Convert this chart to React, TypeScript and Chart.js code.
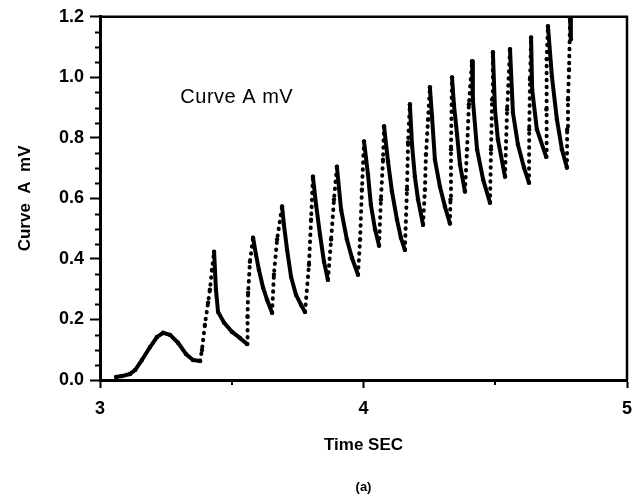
import React, { useEffect, useRef } from "react";
import { Chart, registerables } from "chart.js";

Chart.register(...registerables);

// ---- data ----
const timeSec = [
  3.061, 3.083, 3.114, 3.133, 3.159, 3.19, 3.216, 3.239, 3.266, 3.296,
  3.326, 3.353, 3.38, 3.387, 3.398, 3.41, 3.417, 3.425, 3.433, 3.44,
  3.448, 3.471, 3.501, 3.531, 3.558,
  3.56, 3.562, 3.569, 3.581, 3.592, 3.603, 3.619, 3.634, 3.653,
  3.66, 3.672, 3.691, 3.698, 3.71, 3.725, 3.744, 3.763, 3.778,
  3.793, 3.801, 3.808, 3.82, 3.835, 3.85, 3.865,
  3.877, 3.888, 3.899, 3.915, 3.937, 3.956, 3.979,
  3.987, 3.994, 4.002, 4.017, 4.028, 4.044, 4.059,
  4.066, 4.074, 4.078, 4.093, 4.108, 4.127, 4.142, 4.157,
  4.165, 4.169, 4.176, 4.184, 4.195, 4.207, 4.226,
  4.233, 4.237, 4.245, 4.252, 4.26, 4.271, 4.29, 4.309, 4.328,
  4.33, 4.332, 4.336, 4.343, 4.355, 4.366, 4.385,
  4.393, 4.4, 4.412, 4.415, 4.431, 4.454, 4.48,
  4.484, 4.488, 4.491, 4.499, 4.51, 4.537,
  4.545, 4.556, 4.567, 4.586, 4.609, 4.628,
  4.629, 4.632, 4.636, 4.64, 4.658, 4.693,
  4.694, 4.696, 4.7, 4.715, 4.734, 4.753, 4.772,
  4.773, 4.776, 4.78, 4.784, 4.787,
];

const curveA = [
  0.01, 0.013, 0.02, 0.033, 0.066, 0.109, 0.142, 0.156, 0.149, 0.123,
  0.086, 0.066, 0.063, 0.099, 0.182, 0.255, 0.298, 0.364, 0.424, 0.298,
  0.225, 0.189, 0.159, 0.139, 0.119,
  0.209, 0.288, 0.391, 0.47, 0.414, 0.364, 0.305, 0.265, 0.222,
  0.348, 0.464, 0.573, 0.513, 0.43, 0.341, 0.281, 0.248, 0.225,
  0.381, 0.53, 0.672, 0.579, 0.48, 0.391, 0.331,
  0.464, 0.596, 0.705, 0.563, 0.464, 0.404, 0.348,
  0.464, 0.629, 0.788, 0.679, 0.579, 0.497, 0.444,
  0.596, 0.728, 0.838, 0.722, 0.623, 0.53, 0.47, 0.43,
  0.629, 0.785, 0.911, 0.778, 0.672, 0.596, 0.513,
  0.629, 0.745, 0.861, 0.967, 0.871, 0.728, 0.639, 0.573, 0.517,
  0.596, 0.762, 1.0, 0.911, 0.811, 0.712, 0.623,
  0.762, 0.911, 1.053, 0.927, 0.762, 0.662, 0.586,
  0.762, 0.927, 1.083, 0.894, 0.795, 0.672,
  0.894, 1.093, 0.884, 0.778, 0.702, 0.652,
  0.828, 0.993, 1.132, 0.96, 0.828, 0.738,
  0.894, 1.06, 1.169, 1.003, 0.861, 0.762, 0.702,
  0.828, 0.927, 1.026, 1.195, 1.126,
];

const xTicks = [3, 4, 5];
const xMinorTicks = [3.5, 4.5];
const yTicks = [0, 0.2, 0.4, 0.6, 0.8, 1.0, 1.2];
const yMinorTicks = [
  0.05, 0.1, 0.15, 0.25, 0.3, 0.35, 0.45, 0.5, 0.55, 0.65, 0.7, 0.75,
  0.85, 0.9, 0.95, 1.05, 1.1, 1.15,
];
const xRange = [3, 5];
const yRange = [0, 1.2];

const xTitle = "Time SEC";
const yTitle = "Curve  A  mV";
const innerLabel = "Curve A mV";
const innerLabelAt = { x: 3.305, y: 0.935 };
const panelLabel = "(a)";

const FONT = "'Liberation Sans', Arial, Helvetica, sans-serif";

const decorPlugin = {
  id: "decor",
  afterDraw(chart: any) {
    const { ctx, chartArea } = chart;
    const xs = chart.scales.x;
    const ys = chart.scales.y;
    ctx.save();
    // frame (top + right)
    ctx.strokeStyle = "#000";
    ctx.lineWidth = 2.5;
    ctx.beginPath();
    ctx.moveTo(chartArea.left, chartArea.top);
    ctx.lineTo(chartArea.right, chartArea.top);
    ctx.lineTo(chartArea.right, chartArea.bottom);
    ctx.stroke();
    // minor ticks
    ctx.lineWidth = 2;
    ctx.beginPath();
    yMinorTicks.forEach((v) => {
      const py = Math.round(ys.getPixelForValue(v)) + 0.5;
      ctx.moveTo(chartArea.left - 5, py);
      ctx.lineTo(chartArea.left, py);
    });
    xMinorTicks.forEach((v) => {
      const px = Math.round(xs.getPixelForValue(v));
      ctx.moveTo(px, chartArea.bottom);
      ctx.lineTo(px, chartArea.bottom + 5);
    });
    ctx.stroke();
    // inner label
    ctx.fillStyle = "#000";
    ctx.font = `20px ${FONT}`;
    (ctx as any).letterSpacing = "0.5px";
    ctx.textAlign = "left";
    ctx.textBaseline = "middle";
    ctx.fillText(
      innerLabel,
      xs.getPixelForValue(innerLabelAt.x),
      ys.getPixelForValue(innerLabelAt.y)
    );
    (ctx as any).letterSpacing = "0px";
    // panel label
    ctx.font = `bold 13px ${FONT}`;
    ctx.textAlign = "center";
    ctx.fillText(panelLabel, (chartArea.left + chartArea.right) / 2, chart.height - 13);
    ctx.restore();
  },
};

export default function App() {
  const ref = useRef<HTMLCanvasElement | null>(null);

  useEffect(() => {
    if (!ref.current) return;
    const points = timeSec.map((t, i) => ({ x: t, y: curveA[i] }));
    const chart = new Chart(ref.current, {
      type: "scatter",
      data: {
        datasets: [
          {
            label: innerLabel,
            data: points,
            showLine: true,
            borderColor: "#000",
            backgroundColor: "#000",
            borderWidth: 4,
            borderCapStyle: "round",
            borderJoinStyle: "round",
            pointRadius: 2.2,
            pointBorderWidth: 0,
            pointBackgroundColor: "#000",
            segment: {
              borderDash: (c: any) => {
                const dx = c.p1.parsed.x - c.p0.parsed.x;
                const dy = c.p1.parsed.y - c.p0.parsed.y;
                if (dy > 0 && (dx <= 0 || dy / dx > 5)) return [0.5, 6.5];
                return undefined;
              },
            },
          } as any,
        ],
      },
      plugins: [decorPlugin],
      options: {
        animation: false,
        responsive: false,
        events: [],
        layout: { padding: { left: 0, right: 16, top: 16, bottom: 40 } },
        plugins: {
          legend: { display: false },
          tooltip: { enabled: false },
          title: { display: false },
        },
        scales: {
          x: {
            type: "linear",
            min: xRange[0],
            max: xRange[1],
            afterBuildTicks: (s: any) => {
              s.ticks = xTicks.map((v) => ({ value: v }));
            },
            afterFit: (s: any) => {
              s.height = 80;
            },
            ticks: {
              color: "#000",
              padding: 10,
              maxRotation: 0,
              font: { family: FONT, size: 18, weight: "bold" },
              callback: (v: any) => String(v),
            },
            grid: {
              drawOnChartArea: false,
              drawTicks: true,
              tickLength: 8,
              tickWidth: 2,
              tickColor: "#000",
              color: "#000",
            },
            border: { display: true, color: "#000", width: 3 },
            title: {
              display: true,
              text: xTitle,
              color: "#000",
              padding: { top: 0, bottom: 4 },
              font: { family: FONT, size: 17, weight: "bold" },
            },
          },
          y: {
            type: "linear",
            min: yRange[0],
            max: yRange[1],
            afterBuildTicks: (s: any) => {
              s.ticks = yTicks.map((v) => ({ value: v }));
            },
            afterFit: (s: any) => {
              s.width = 100;
            },
            ticks: {
              color: "#000",
              padding: 6,
              font: { family: FONT, size: 18, weight: "bold" },
              callback: (v: any) => Number(v).toFixed(1),
            },
            grid: {
              drawOnChartArea: false,
              drawTicks: true,
              tickLength: 10,
              tickWidth: 2,
              tickColor: "#000",
              color: "#000",
            },
            border: { display: true, color: "#000", width: 3 },
            title: {
              display: true,
              text: yTitle,
              color: "#000",
              padding: { top: 15, bottom: 0 },
              font: { family: FONT, size: 17, weight: "bold" },
            },
          },
        },
      } as any,
    });
    return () => chart.destroy();
  }, []);

  return (
    <div style={{ position: "fixed", left: 0, top: 0, width: 643, height: 500, background: "#fff" }}>
      <canvas ref={ref} width={643} height={500} style={{ display: "block" }} />
    </div>
  );
}
